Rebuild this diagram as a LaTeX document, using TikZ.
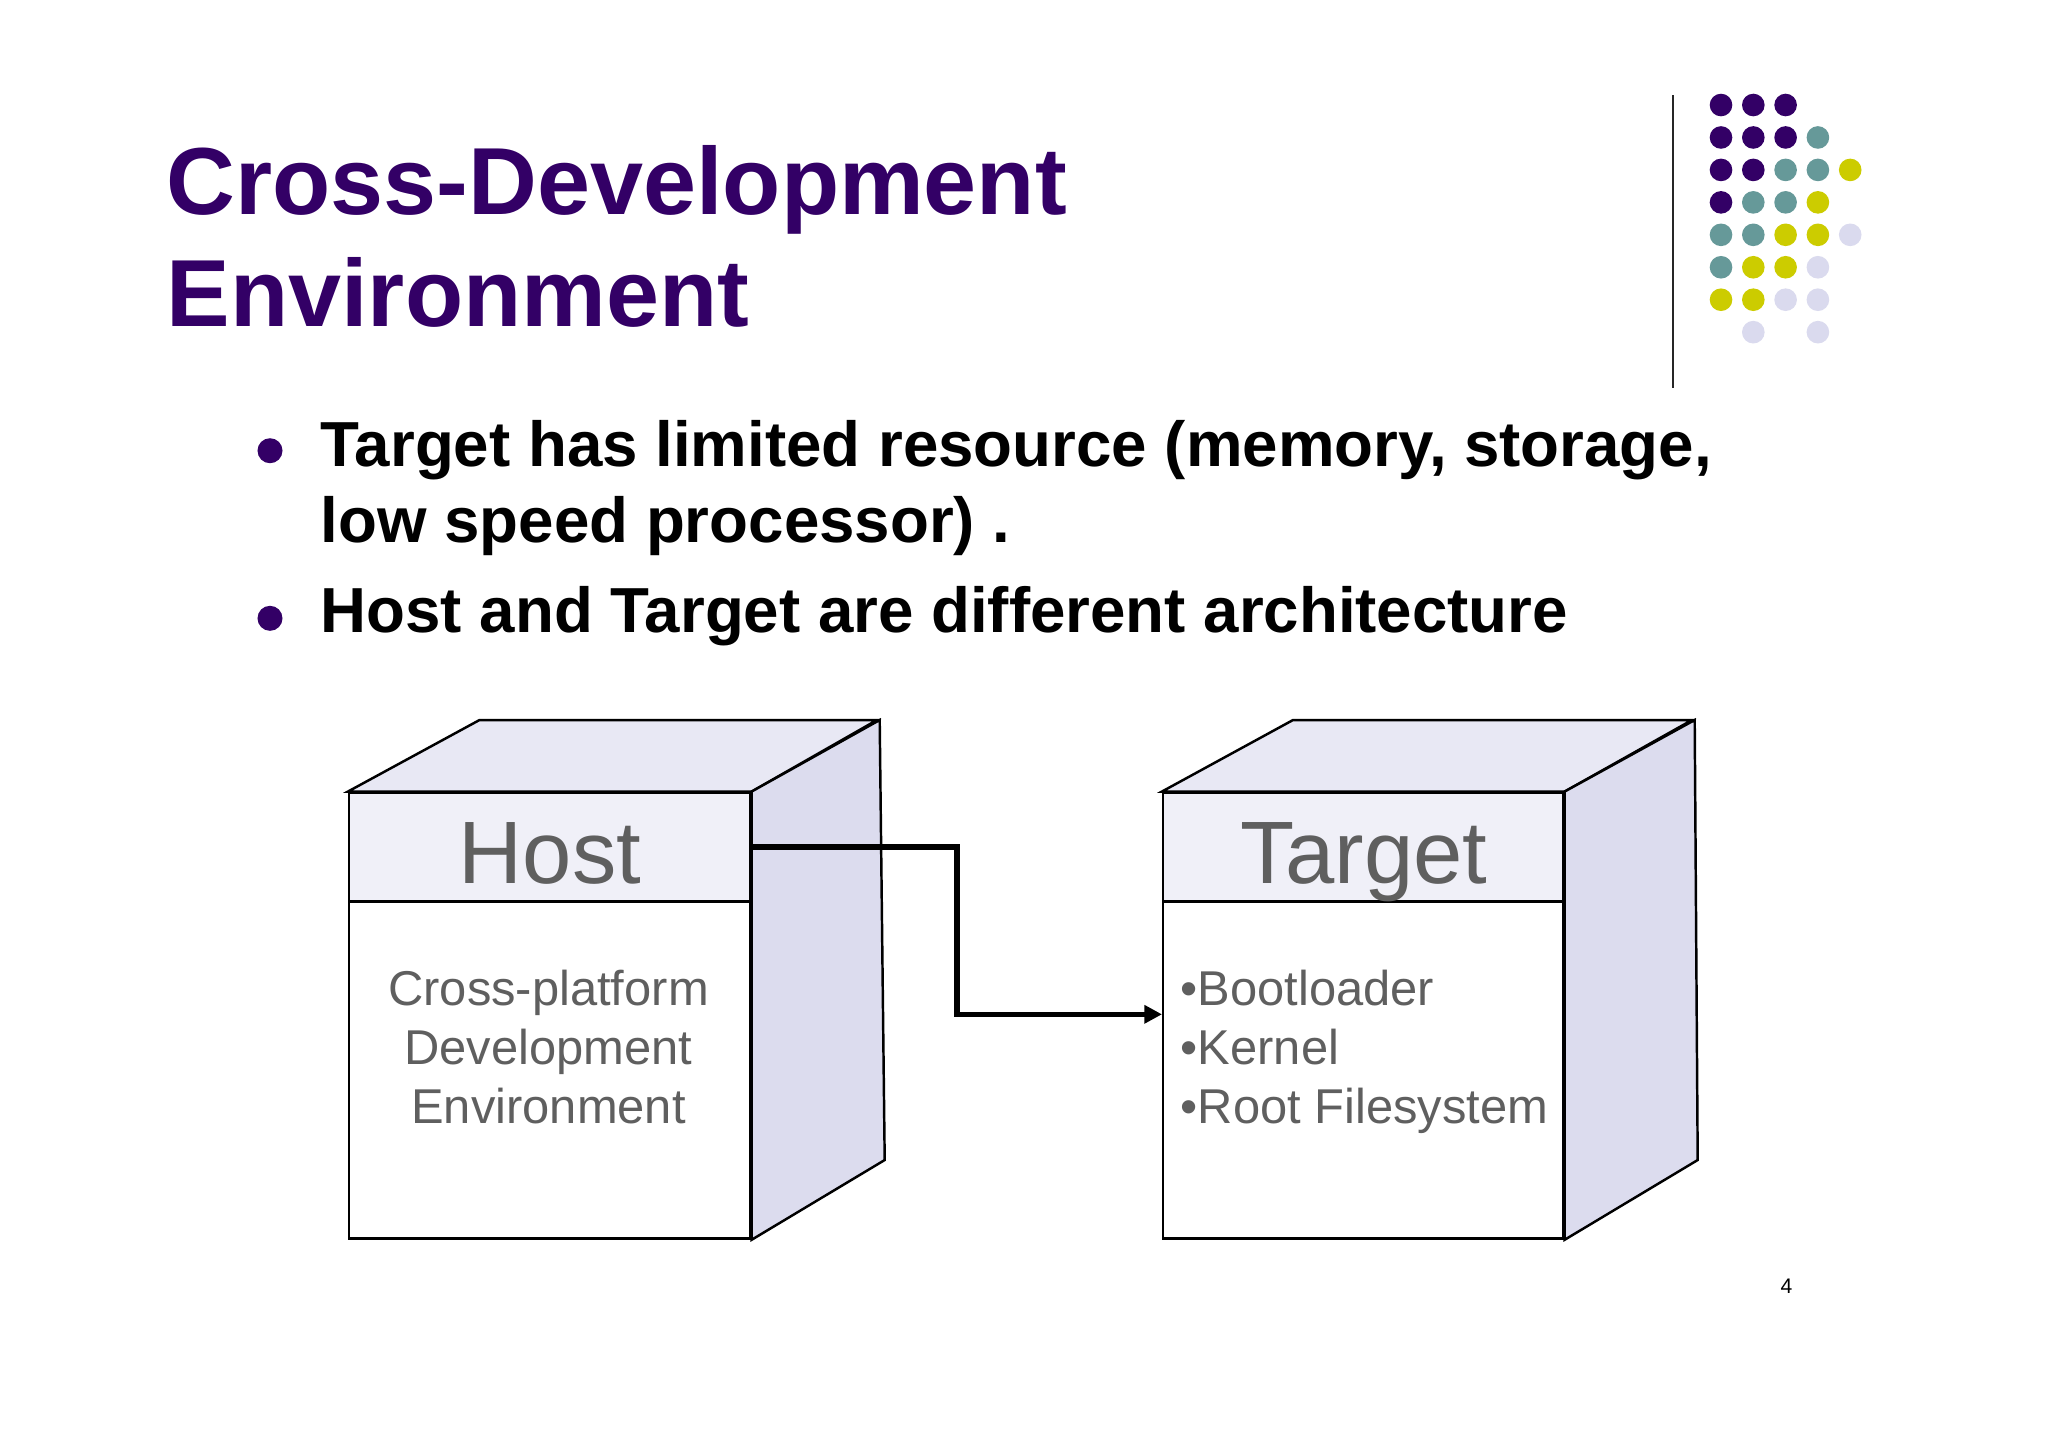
\documentclass[tikz,border=0pt]{standalone}
\usepackage{fontspec}
\setmainfont{Liberation Sans}
\usetikzlibrary{arrows.meta}
\definecolor{tpurple}{RGB}{51,0,102}
\definecolor{tgray}{RGB}{95,95,95}
\definecolor{dotP}{RGB}{51,0,102}
\definecolor{dotT}{RGB}{102,153,153}
\definecolor{dotY}{RGB}{204,204,0}
\definecolor{dotL}{RGB}{218,218,238}
\definecolor{ftop}{RGB}{232,232,244}
\definecolor{fside}{RGB}{220,220,238}
\definecolor{fhead}{RGB}{240,240,248}
\begin{document}
\begin{tikzpicture}[x=0.01cm,y=-0.01cm,
  titletxt/.style={anchor=base west, inner sep=0, text=tpurple, font=\fontsize{27.1}{32}\selectfont\bfseries},
  bultxt/.style={anchor=base west, inner sep=0, font=\fontsize{18.1}{21}\selectfont\bfseries},
  headlbl/.style={anchor=base, inner sep=0, text=tgray, font=\fontsize{25.2}{30}\selectfont},
  bodylbl/.style={inner sep=0, text=tgray, font=\fontsize{13.9}{17}\selectfont},
  face/.style={draw=black, line width=0.7pt, line join=miter},
  conn/.style={line width=1.5pt, -{Triangle[length=5pt,width=5pt]}}]
\useasboundingbox[fill=white] (0,0) rectangle (2048,1447);

% title
\node[titletxt] (title1) at (166,214) {Cross-Development};
\node[titletxt] (title2) at (166,326.7) {Environment};

% vertical rule and dots
\draw[line width=0.6pt, draw=black!85] (1673,95) -- (1673,388);
\foreach \c/\r/\k in {0/0/dotP,1/0/dotP,2/0/dotP,
  0/1/dotP,1/1/dotP,2/1/dotP,3/1/dotT,
  0/2/dotP,1/2/dotP,2/2/dotT,3/2/dotT,4/2/dotY,
  0/3/dotP,1/3/dotT,2/3/dotT,3/3/dotY,
  0/4/dotT,1/4/dotT,2/4/dotY,3/4/dotY,4/4/dotL,
  0/5/dotT,1/5/dotY,2/5/dotY,3/5/dotL,
  0/6/dotY,1/6/dotY,2/6/dotL,3/6/dotL,
  1/7/dotL,3/7/dotL}
  \fill[fill=\k] (1721+32.3*\c,105+32.45*\r) circle[radius=0.113cm];

% bullets
\fill[tpurple] (270,450.7) circle[radius=0.125cm];
\fill[tpurple] (270,618.3) circle[radius=0.125cm];
\node[bultxt] (b1a) at (320,466) {Target has limited resource (memory, storage,};
\node[bultxt] (b1b) at (320,542) {low speed processor) .};
\node[bultxt] (b2) at (320,632.5) {Host and Target are different architecture};

% Host box
\node[face, fill=white, minimum width=4.01cm, minimum height=4.455cm, anchor=north west, inner sep=0] (host) at (348,791.5) {};
\node[face, fill=fhead, minimum width=4.01cm, minimum height=1.085cm, anchor=north west, inner sep=0] (hosthead) at (348,791.5) {};
\filldraw[face, fill=ftop] (host.north west) -- ++(131.5,-71.5) -- ++(397.5,0) -- (host.north east) -- cycle;
\filldraw[face, fill=fside] (host.north east) -- ++(128,-71.5) -- ++(5,440) -- (host.south east) -- cycle;
\node[headlbl] (hostlbl) at (550,883) {Host};
\node[bodylbl, anchor=base] (hb1) at (548.5,1005) {Cross-platform};
\node[bodylbl, anchor=base] (hb2) at (548.5,1064) {Development};
\node[bodylbl, anchor=base] (hb3) at (548.5,1123) {Environment};

% Target box
\node[face, fill=white, minimum width=4.00cm, minimum height=4.455cm, anchor=north west, inner sep=0] (tgt) at (1162,791.5) {};
\node[face, fill=fhead, minimum width=4.00cm, minimum height=1.085cm, anchor=north west, inner sep=0] (tgthead) at (1162,791.5) {};
\filldraw[face, fill=ftop] (tgt.north west) -- ++(131,-71.5) -- ++(399,0) -- (tgt.north east) -- cycle;
\filldraw[face, fill=fside] (tgt.north east) -- ++(130,-71.5) -- ++(3,440) -- (tgt.south east) -- cycle;
\node[headlbl] (tgtlbl) at (1364,883) {Target};
\node[bodylbl, anchor=base west] (tb1) at (1180,1005) {•Bootloader};
\node[bodylbl, anchor=base west] (tb2) at (1180,1064) {•Kernel};
\node[bodylbl, anchor=base west] (tb3) at (1180,1123) {•Root Filesystem};

% connector
\coordinate (bend) at (957,846);
\coordinate (ay) at (0,1014.3);
\draw[conn] (hosthead.east) -- (hosthead.east -| bend) -- (bend |- ay) -- (tgt.west |- ay);

% page number
\node[anchor=base west, inner sep=0, font=\fontsize{6}{7}\selectfont] (pnum) at (1780,1293) {4};
\end{tikzpicture}
\end{document}
